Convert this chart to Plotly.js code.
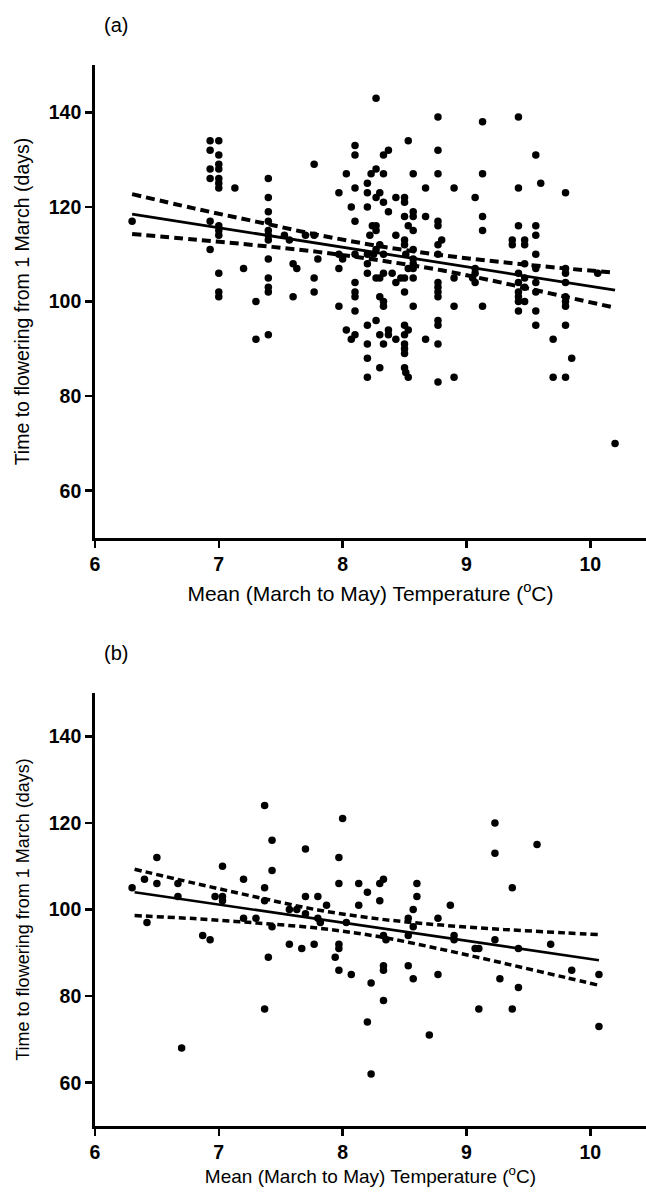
<!DOCTYPE html>
<html>
<head>
<meta charset="utf-8">
<script src="https://cdn.plot.ly/plotly-3.0.1.min.js"></script>
<style>html,body{margin:0;padding:0;background:#fff;}#chart{width:646px;height:1198px;}</style>
</head>
<body>
<div id="chart"></div>
<script>
// ---------- Panel (a) data ----------
const aTemp = [
 6.30,
 6.93,6.93,6.93,6.93,6.93,6.93,
 7.00,7.00,7.00,7.00,7.00,7.00,7.00,7.00,7.00,7.00,7.00,7.00,7.00,
 7.13,7.20,7.30,7.30,
 7.40,7.40,7.40,7.40,7.40,7.40,7.40,7.40,7.40,7.40,7.40,7.40,
 7.53,7.57,7.60,7.63,7.60,
 7.70,7.77,7.77,7.77,7.77,7.80,
 7.97,7.97,7.97,7.97,8.00,
 8.03,8.03,8.07,8.07,
 8.10,8.10,8.10,8.10,8.10,8.10,8.10,8.10,8.10,8.10,
 8.20,8.20,8.20,8.20,8.20,8.20,8.20,8.20,8.20,8.20,
 8.22,8.23,8.24,8.25,
 8.27,8.27,8.27,8.27,8.27,8.27,8.27,8.27,
 8.30,8.30,8.30,8.30,8.30,8.30,
 8.33,8.33,8.33,8.33,8.33,8.33,8.33,8.33,
 8.37,8.37,8.37,8.37,
 8.40,8.43,8.43,8.43,8.43,8.47,
 8.50,8.50,8.50,8.50,8.50,8.50,8.50,8.50,8.50,8.50,8.50,8.50,8.50,
 8.51,8.51,8.53,8.53,8.53,8.53,8.53,
 8.57,8.57,8.57,8.57,8.57,8.57,8.57,8.57,8.57,8.57,
 8.67,8.67,8.67,
 8.77,8.77,8.77,8.77,8.77,8.77,8.77,8.77,8.77,8.77,8.77,8.77,8.77,8.77,8.77,
 8.80,
 8.90,8.90,8.90,8.90,
 9.05,9.07,9.07,9.07,9.07,
 9.13,9.13,9.13,9.13,9.13,
 9.37,9.37,
 9.42,9.42,9.42,9.42,9.42,9.42,9.42,9.42,9.42,
 9.47,9.47,9.47,9.47,9.47,9.47,
 9.56,9.56,9.56,9.56,9.56,9.56,9.56,9.56,9.56,
 9.60,9.70,9.70,
 9.80,9.80,9.80,9.80,9.80,9.80,9.80,9.80,9.80,
 9.85,10.06,10.20
];
const aDays = [
 117,
 134,132,128,126,117,111,
 134,131,129,128,126,125,124,116,115,114,106,102,101,
 124,107,100,92,
 126,122,119,117,115,114,113,109,105,103,102,93,
 114,113,108,107,101,
 114,114,129,105,102,109,
 123,110,107,99,109,
 127,94,120,92,
 133,131,124,117,110,104,102,101,98,93,
 125,123,120,110,108,106,95,91,88,84,
 114,127,116,110,
 143,128,122,116,115,111,105,96,
 123,112,105,101,93,86,
 131,127,121,110,106,100,99,91,
 132,119,94,93,
 106,122,114,104,92,105,
 122,121,118,113,112,105,102,95,93,91,90,89,86,
 110,85,134,116,107,94,84,
 127,119,118,115,111,109,108,107,105,99,
 124,118,92,
 139,132,127,117,116,112,110,104,103,102,101,96,95,91,83,
 113,
 124,105,99,84,
 105,122,107,106,104,
 138,127,118,115,99,
 113,112,
 139,124,116,106,104,102,101,100,98,
 113,112,108,105,103,100,
 131,116,114,110,107,104,102,98,95,
 125,92,84,
 123,107,106,104,101,100,99,95,84,
 88,106,70
];
// fitted line and 95% band, panel (a)
const aFitTemp = [6.3, 10.2];
const aFitDays = [118.5, 102.4];
const aBandTemp = [6.3, 6.8, 7.3, 7.8, 8.3, 8.8, 9.3, 9.8, 10.2];
const aBandUpper = [122.7, 119.7, 116.9, 114.1, 111.7, 109.8, 108.3, 107.0, 106.1];
const aBandLower = [114.3, 113.1, 111.9, 110.5, 108.7, 106.6, 103.9, 101.0, 98.7];

// ---------- Panel (b) data ----------
const bTemp = [
 6.30,6.40,6.42,6.50,6.50,6.67,6.67,6.70,6.87,6.93,6.97,
 7.03,7.03,7.03,7.20,7.20,7.30,7.37,7.37,7.37,7.37,7.40,7.43,7.43,7.43,
 7.57,7.57,7.63,7.67,7.70,7.70,7.70,7.77,7.80,7.80,7.82,7.87,7.94,
 7.97,7.97,7.97,7.97,7.97,8.00,8.03,8.07,8.13,8.13,8.20,8.20,8.23,8.23,
 8.30,8.30,8.33,8.33,8.33,8.33,8.33,8.35,8.53,8.53,8.53,8.57,8.57,8.57,
 8.60,8.60,8.70,8.77,8.77,8.87,8.90,8.90,9.07,9.10,9.10,
 9.23,9.23,9.23,9.27,9.37,9.37,9.42,9.42,9.57,9.68,9.85,10.07,10.07
];
const bDays = [
 105,107,97,112,106,103,106,68,94,93,103,
 110,103,102,107,98,98,124,105,102,77,89,116,109,96,
 100,92,100,91,114,103,99,92,103,98,97,101,89,
 112,106,92,91,86,121,97,85,106,101,104,74,83,62,
 106,102,107,94,87,86,79,93,98,94,87,100,96,84,
 106,103,71,98,85,101,94,93,91,91,77,
 120,113,93,84,105,77,91,82,115,92,86,85,73
];
const bFitTemp = [6.32, 10.07];
const bFitDays = [104.0, 88.3];
const bBandTemp = [6.32, 6.8, 7.3, 7.8, 8.3, 8.8, 9.3, 9.8, 10.07];
const bBandUpper = [109.3, 106.1, 102.9, 99.9, 97.8, 96.4, 95.4, 94.6, 94.2];
const bBandLower = [98.6, 97.9, 96.9, 95.7, 93.7, 90.8, 87.6, 84.3, 82.5];

// ---------- chart ----------
const xTicks = [6, 7, 8, 9, 10];
const yTicks = [60, 80, 100, 120, 140];
const FONT = 'Liberation Sans, Arial, sans-serif';

function panelTraces(xa, ya, tx, dy, fx, fy, bx, bu, bl, st) {
  return [
    {x: tx, y: dy, xaxis: xa, yaxis: ya, type: 'scatter', mode: 'markers',
     marker: {color: '#000', size: 7.5}, hoverinfo: 'skip'},
    {x: fx, y: fy, xaxis: xa, yaxis: ya, type: 'scatter', mode: 'lines',
     line: {color: '#000', width: st.solid}},
    {x: bx, y: bu, xaxis: xa, yaxis: ya, type: 'scatter', mode: 'lines',
     line: {color: '#000', width: st.dashW, dash: st.dash, shape: 'spline'}},
    {x: bx, y: bl, xaxis: xa, yaxis: ya, type: 'scatter', mode: 'lines',
     line: {color: '#000', width: st.dashW, dash: st.dash, shape: 'spline'}}
  ];
}

const data = [].concat(
  panelTraces('x', 'y', aTemp, aDays, aFitTemp, aFitDays, aBandTemp, aBandUpper, aBandLower,
              {solid: 2.8, dashW: 4, dash: '9px,5px'}),
  panelTraces('x2', 'y2', bTemp, bDays, bFitTemp, bFitDays, bBandTemp, bBandUpper, bBandLower,
              {solid: 2.6, dashW: 3.5, dash: '7px,4px'})
);

const xTitle = 'Mean (March to May) Temperature (<sup>o</sup>C)';
const yTitle = 'Time to flowering from 1 March (days)';

function xAxis(anchor, titleSize, standoff) {
  return {
    anchor: anchor, domain: [0.147, 1.0], range: [6, 10.45],
    tickvals: xTicks, ticktext: xTicks.map(String),
    ticks: 'outside', ticklen: 7, tickwidth: 2.5, tickcolor: '#000',
    showline: true, linewidth: 2.8, linecolor: '#000',
    showgrid: false, zeroline: false,
    tickfont: {family: FONT, size: 19.5, color: '#000', weight: 'bold'},
    title: {text: xTitle, font: {family: FONT, size: titleSize, color: '#000'}, standoff: standoff}
  };
}
function yAxis(anchor, domain, titleSize, standoff) {
  return {
    anchor: anchor, domain: domain, range: [50, 150],
    tickvals: yTicks, ticktext: yTicks.map(String),
    ticks: 'outside', ticklen: 7, tickwidth: 2.5, tickcolor: '#000',
    showline: true, linewidth: 2.8, linecolor: '#000',
    showgrid: false, zeroline: false,
    tickfont: {family: FONT, size: 19.5, color: '#000', weight: 'bold'},
    title: {text: yTitle, font: {family: FONT, size: titleSize, color: '#000'}, standoff: standoff}
  };
}

const layout = {
  width: 646, height: 1198,
  margin: {l: 0, r: 0, t: 0, b: 0},
  paper_bgcolor: '#fff', plot_bgcolor: '#fff',
  showlegend: false,
  font: {family: FONT, color: '#000'},
  xaxis: xAxis('y', 21, 12),
  yaxis: yAxis('x', [0.5509, 0.9457], 19.5, 14),
  xaxis2: xAxis('y2', 19, 8),
  yaxis2: yAxis('x2', [0.0601, 0.4215], 18, 15),
  annotations: [
    {text: '(a)', xref: 'paper', yref: 'paper', x: 0.158, y: 0.979, xanchor: 'left', yanchor: 'middle',
     showarrow: false, font: {family: FONT, size: 20, color: '#000'}},
    {text: '(b)', xref: 'paper', yref: 'paper', x: 0.158, y: 0.455, xanchor: 'left', yanchor: 'middle',
     showarrow: false, font: {family: FONT, size: 20, color: '#000'}}
  ]
};

Plotly.newPlot('chart', data, layout, {staticPlot: true, displayModeBar: false});
</script>
</body>
</html>
